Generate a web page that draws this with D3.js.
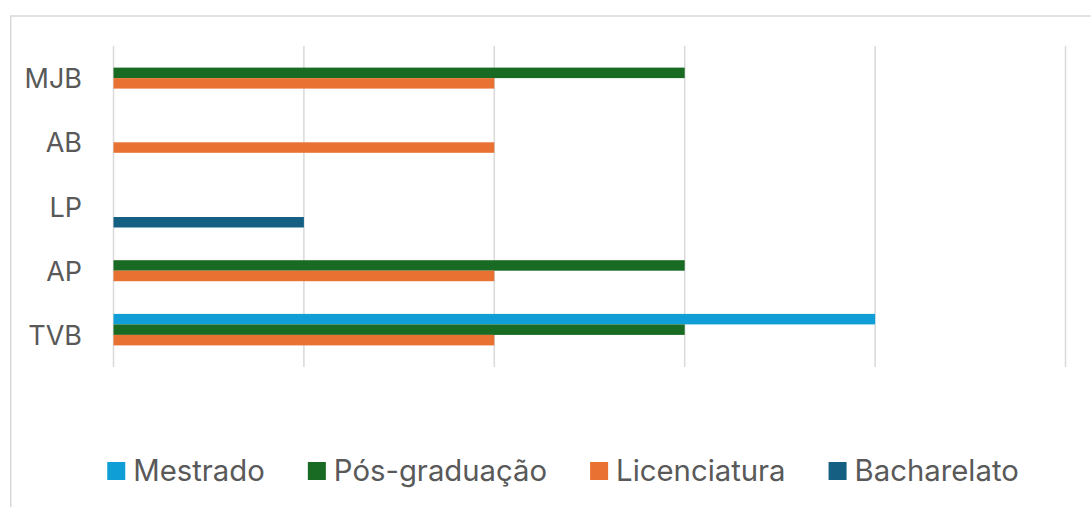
<!DOCTYPE html>
<html>
<head>
<meta charset="utf-8">
<script src="https://cdn.jsdelivr.net/npm/d3@7"></script>
<style>
  html, body { margin: 0; padding: 0; background: #fff; }
  svg { display: block; }
  text { font-family: Inter, "Liberation Sans", sans-serif; fill: #595959; }
</style>
</head>
<body>
<svg id="chart" width="1091" height="507"></svg>
<script>
// ---- data ----
const categories = ["MJB", "AB", "LP", "AP", "TVB"];
const seriesNames = ["Mestrado", "Pós-graduação", "Licenciatura", "Bacharelato"];
const mestrado     = [0, 0, 0, 0, 4];
const posGraduacao = [3, 0, 0, 3, 3];
const licenciatura = [2, 2, 0, 2, 2];
const bacharelato  = [0, 0, 1, 0, 0];
const xTicks = [0, 1, 2, 3, 4, 5];
const colors = ["#0F9ED5", "#196B24", "#E97132", "#156082"];

const seriesValues = [mestrado, posGraduacao, licenciatura, bacharelato];

// ---- layout ----
const svg = d3.select("#chart");
const plot = { left: 113.5, right: 1065.5, top: 46, bottom: 367 };
const labelFont = 27;
const legendFont = 29.3;

// chart border (partially cropped)
svg.append("rect")
  .attr("x", 10.75).attr("y", 16)
  .attr("width", 1200).attr("height", 600)
  .attr("fill", "none").attr("stroke", "#d9d9d9").attr("stroke-width", 1.5);

const x = d3.scaleLinear().domain([0, 5]).range([plot.left, plot.right]);
const y = d3.scaleBand().domain(categories).range([plot.top, plot.bottom])
  .paddingInner(0.346).paddingOuter(0.173);
const ySub = d3.scaleBand().domain(seriesNames).range([0, y.bandwidth()]).padding(0);

// gridlines
svg.append("g").selectAll("line").data(xTicks).join("line")
  .attr("x1", d => x(d)).attr("x2", d => x(d))
  .attr("y1", plot.top).attr("y2", plot.bottom)
  .attr("stroke", "#d9d9d9").attr("stroke-width", 1.5);

// bars
const rows = [];
seriesNames.forEach((s, si) => {
  categories.forEach((c, ci) => {
    rows.push({ series: s, si, cat: c, value: seriesValues[si][ci] });
  });
});
svg.append("g").selectAll("rect").data(rows.filter(d => d.value > 0)).join("rect")
  .attr("x", x(0))
  .attr("y", d => y(d.cat) + ySub(d.series))
  .attr("width", d => x(d.value) - x(0))
  .attr("height", ySub.bandwidth())
  .attr("fill", d => colors[d.si]);

// category labels
svg.append("g").selectAll("text").data(categories).join("text")
  .attr("x", 82)
  .attr("y", d => y(d) + y.bandwidth() / 2 + 10)
  .attr("text-anchor", "end")
  .attr("font-size", labelFont)
  .text(d => d);

// legend
const legend = svg.append("g");
const items = legend.selectAll("g").data(seriesNames).join("g");
items.append("rect")
  .attr("width", 18).attr("height", 18).attr("y", 462)
  .attr("fill", (d, i) => colors[i]);
items.append("text")
  .attr("y", 480.5)
  .attr("font-size", legendFont)
  .text(d => d);
let widths = [];
items.each(function () { widths.push(d3.select(this).select("text").node().getComputedTextLength()); });
const swatch = 18, gapText = 8, gapItem = 43;
const total = d3.sum(widths) + seriesNames.length * (swatch + gapText) + (seriesNames.length - 1) * gapItem;
let cx = 563 - total / 2;
items.each(function (d, i) {
  const g = d3.select(this);
  g.select("rect").attr("x", cx);
  g.select("text").attr("x", cx + swatch + gapText);
  cx += swatch + gapText + widths[i] + gapItem;
});
</script>
</body>
</html>
